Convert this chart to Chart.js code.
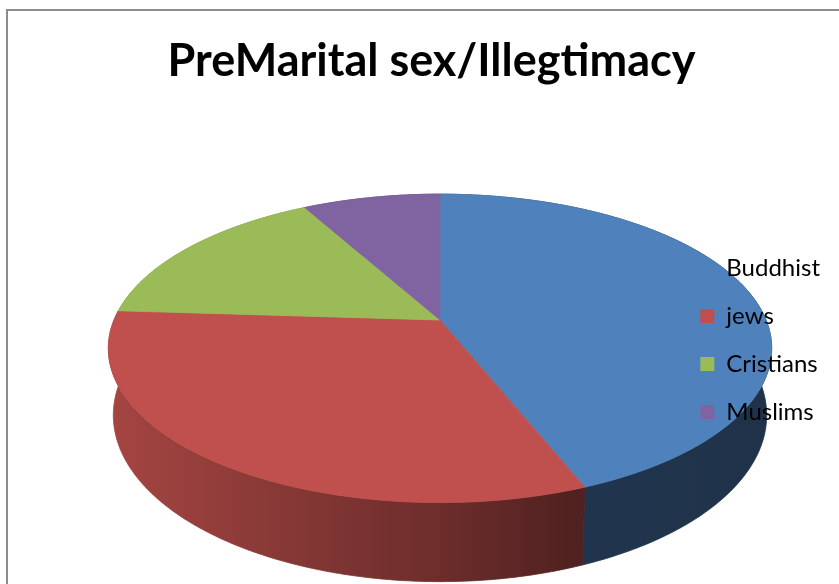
<!DOCTYPE html>
<html>
<head>
<meta charset="utf-8">
<script src="https://cdn.jsdelivr.net/npm/chart.js@4.4.1/dist/chart.umd.min.js"></script>
<style>
  body { margin: 0; background: #fff; }
  #wrap { width: 839px; height: 584px; position: relative; }
</style>
</head>
<body>
<div id="wrap"><canvas id="pieChart"></canvas></div>
<script>
const categories = ["Buddhist", "jews", "Cristians", "Muslims"];
const shares = [44, 32, 16, 8];
const sliceColors = ["#4f81bd", "#c0504d", "#9bbb59", "#8064a2"];

// tilted "3d" look, Chart.js only gives us the angles
const view = { cx: 440, cy: 320, rx: 326, ry: 149, persp: 0.184, depth: 64.5, shrink: 0.985 };

function project(angle, bottom) {
    const u = Math.cos(angle), v = Math.sin(angle);
    const w = 1 - view.persp * v;
    let x = view.rx * u / w;
    let y = view.ry * v / w;
    if (bottom) {
        x *= view.shrink;
        y += view.depth / w;
    }
    return [view.cx + x, view.cy + y];
}

function samples(a0, a1) {
    const n = Math.max(2, Math.ceil((a1 - a0) / 0.01));
    const out = [];
    for (let k = 0; k <= n; k++) out.push(a0 + (a1 - a0) * k / n);
    return out;
}

function shade(hex, f) {
    const n = parseInt(hex.slice(1), 16);
    const r = Math.round(((n >> 16) & 255) * f);
    const g = Math.round(((n >> 8) & 255) * f);
    const b = Math.round((n & 255) * f);
    return `rgb(${r},${g},${b})`;
}

function sideGradient(ctx, hex) {
    const x0 = view.cx - view.rx * 1.02, x1 = view.cx + view.rx * 1.02;
    const g = ctx.createLinearGradient(x0, 0, x1, 0);
    g.addColorStop(0, shade(hex, 0.86));
    g.addColorStop(0.5, shade(hex, 0.56));
    g.addColorStop(0.71, shade(hex, 0.41));
    g.addColorStop(1, shade(hex, 0.39));
    return g;
}

const pie3d = {
    id: "pie3d",
    beforeDraw(chart) {
        const ctx = chart.ctx;
        const arcs = chart.getDatasetMeta(0).data;

        ctx.save();
        // chart frame
        ctx.strokeStyle = "#8c8c8c";
        ctx.lineWidth = 2;
        ctx.strokeRect(7, 10, 900, 700);

        // side walls
        arcs.forEach((arc, i) => {
            const pts = samples(arc.startAngle, arc.endAngle);
            ctx.beginPath();
            pts.forEach((a, k) => {
                const p = project(a, false);
                k ? ctx.lineTo(p[0], p[1]) : ctx.moveTo(p[0], p[1]);
            });
            pts.slice().reverse().forEach(a => {
                const p = project(a, true);
                ctx.lineTo(p[0], p[1]);
            });
            ctx.closePath();
            const g = sideGradient(ctx, sliceColors[i]);
            ctx.fillStyle = g;
            ctx.strokeStyle = g;
            ctx.lineWidth = 0.8;
            ctx.fill();
            ctx.stroke();
        });

        // top faces
        arcs.forEach((arc, i) => {
            ctx.beginPath();
            ctx.moveTo(view.cx, view.cy);
            samples(arc.startAngle, arc.endAngle).forEach(a => {
                const p = project(a, false);
                ctx.lineTo(p[0], p[1]);
            });
            ctx.closePath();
            ctx.fillStyle = sliceColors[i];
            ctx.strokeStyle = sliceColors[i];
            ctx.lineWidth = 0.8;
            ctx.fill();
            ctx.stroke();
        });
        ctx.restore();
    },
    beforeDatasetsDraw() {
        return false;
    }
};

new Chart(document.getElementById("pieChart"), {
    type: "pie",
    data: {
        labels: categories,
        datasets: [{
            data: shares,
            backgroundColor: sliceColors,
            borderWidth: 0
        }]
    },
    options: {
        responsive: true,
        maintainAspectRatio: false,
        animation: false,
        layout: { padding: { left: 33, right: 9, top: 0, bottom: 0 } },
        plugins: {
            title: {
                display: true,
                text: "PreMarital sex/Illegtimacy",
                color: "#000",
                font: { family: "Lato", size: 45, weight: "bold" },
                padding: { top: 34, bottom: 8 }
            },
            legend: {
                position: "right",
                fullSize: false,
                labels: {
                    color: "#000",
                    boxWidth: 14,
                    boxHeight: 14,
                    padding: 24,
                    font: { family: "Lato", size: 24 }
                }
            },
            tooltip: { enabled: false }
        }
    },
    plugins: [pie3d]
});
</script>
</body>
</html>
